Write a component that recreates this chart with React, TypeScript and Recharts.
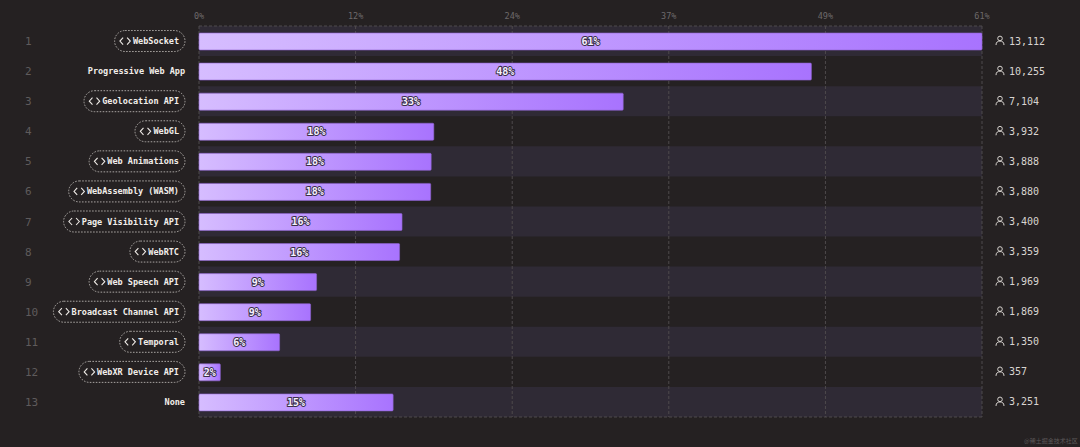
import { BarChart, Bar, XAxis, YAxis, CartesianGrid, ReferenceArea, LabelList } from "recharts";

const categories = [
  "WebSocket",
  "Progressive Web App",
  "Geolocation API",
  "WebGL",
  "Web Animations",
  "WebAssembly (WASM)",
  "Page Visibility API",
  "WebRTC",
  "Web Speech API",
  "Broadcast Channel API",
  "Temporal",
  "WebXR Device API",
  "None",
];
const users = [13112, 10255, 7104, 3932, 3888, 3880, 3400, 3359, 1969, 1869, 1350, 357, 3251];
const percents = ["61%", "48%", "33%", "18%", "18%", "18%", "16%", "16%", "9%", "9%", "6%", "2%", "15%"];
const plainLabels = ["Progressive Web App", "None"];
const tickValues = [0, 2622, 5245, 7867, 10490, 13112];
const tickLabels = ["0%", "12%", "24%", "37%", "49%", "61%"];

const data = categories.map((name, i) => ({ name, users: users[i], percent: percents[i] }));

const MONO = '"DejaVu Sans Mono", "Liberation Mono", monospace';

function FeatureTick({ x, y, payload, index }: any) {
  const name = payload.value as string;
  const i = index ?? categories.indexOf(name);
  const right = x;
  const textW = name.length * 5.1;
  const isApi = !plainLabels.includes(name);
  const pillW = textW + 24.5;
  return (
    <g>
      <text x={25} y={y + 4} fontFamily={MONO} fontSize={11} fill="#5f5b5c">
        {i + 1}
      </text>
      {isApi && (
        <>
          <rect
            x={right - pillW}
            y={y - 10.5}
            width={pillW}
            height={21}
            rx={10.5}
            fill="none"
            stroke="#c9c5c2"
            strokeWidth={0.8}
            strokeDasharray="1.6 1.4"
          />
          <path
            d={`M${right - pillW + 8.5} ${y - 3.5}l-3.2 3.5l3.2 3.5M${right - pillW + 12.5} ${y - 3.5}l3.2 3.5l-3.2 3.5`}
            fill="none"
            stroke="#eeeae6"
            strokeWidth={1.1}
          />
        </>
      )}
      <text
        x={isApi ? right - 6 : right}
        y={y + 3}
        textAnchor="end"
        fontFamily={MONO}
        fontSize={8.5}
        fontWeight={700}
        fill="#f2eeea"
      >
        {name}
      </text>
    </g>
  );
}

function UsersTick({ x, y, payload }: any) {
  const count = users[categories.indexOf(payload.value)];
  const ix = x + 12;
  return (
    <g>
      <circle cx={ix} cy={y - 2.6} r={2.3} fill="none" stroke="#d8d4d0" strokeWidth={1} />
      <path d={`M${ix - 4} ${y + 4}c0 -3 1.8 -4 4 -4s4 1 4 4`} fill="none" stroke="#d8d4d0" strokeWidth={1} />
      <text x={ix + 9} y={y + 3.5} fontFamily={MONO} fontSize={10} fill="#d8d4d0">
        {count.toLocaleString("en-US")}
      </text>
    </g>
  );
}

function PercentLabel({ x, y, width, height, index }: any) {
  return (
    <text
      x={x + width / 2}
      y={y + height / 2 + 3.5}
      textAnchor="middle"
      fontFamily={MONO}
      fontSize={10}
      fontWeight={700}
      fill="#f6f1ff"
      stroke="#3a2f4a"
      strokeWidth={2}
      paintOrder="stroke"
    >
      {percents[index]}
    </text>
  );
}

const axisTick = { fill: "#6d696a", fontSize: 8.5, fontFamily: MONO };
const formatTick = (_: number, i: number) => tickLabels[i];

export default function App() {
  return (
    <div style={{ position: "absolute", left: 0, top: 0, width: 1080, height: 447, background: "#252122" }}>
      <BarChart
        width={1080}
        height={447}
        data={data}
        layout="vertical"
        margin={{ top: 0, right: 0, bottom: 0, left: 0 }}
        barCategoryGap={0}
      >
        <defs>
          <linearGradient id="barFill" x1="0" y1="0" x2="1" y2="0">
            <stop offset="0%" stopColor="#d6bdff" />
            <stop offset="100%" stopColor="#a873fe" />
          </linearGradient>
        </defs>
        {categories.map((name, i) =>
          i % 2 === 0 ? (
            <ReferenceArea
              key={name}
              yAxisId="left"
              xAxisId="top"
              y1={name}
              y2={name}
              fill="#2f2a35"
              fillOpacity={1}
              stroke="none"
              zIndex={-150}
            />
          ) : null
        )}
        <CartesianGrid
          xAxisId="top"
          yAxisId="left"
          horizontal={false}
          stroke="#4e4a4c"
          strokeWidth={1}
          strokeDasharray="3 2"
        />
        <XAxis
          xAxisId="top"
          orientation="top"
          type="number"
          domain={[0, 13112]}
          ticks={tickValues}
          tickFormatter={formatTick}
          interval={0}
          height={26}
          tick={axisTick}
          tickLine={false}
          tickMargin={1}
          axisLine={{ stroke: "#4e4a4c", strokeDasharray: "3 2" }}
        />
        <XAxis
          xAxisId="bottom"
          orientation="bottom"
          type="number"
          domain={[0, 13112]}
          ticks={tickValues}
          tickFormatter={formatTick}
          interval={0}
          height={30}
          tick={axisTick}
          tickLine={false}
          tickMargin={1}
          axisLine={{ stroke: "#4e4a4c", strokeDasharray: "3 2" }}
        />
        <YAxis
          yAxisId="left"
          type="category"
          dataKey="name"
          width={199}
          tick={<FeatureTick />}
          tickMargin={8}
          tickLine={false}
          axisLine={false}
          interval={0}
        />
        <YAxis
          yAxisId="right"
          orientation="right"
          type="category"
          dataKey="name"
          width={98}
          tick={<UsersTick />}
          tickMargin={0}
          tickLine={false}
          axisLine={false}
          interval={0}
        />
        <Bar
          dataKey="users"
          xAxisId="top"
          yAxisId="left"
          barSize={17}
          fill="url(#barFill)"
          stroke="#8d63cf"
          strokeWidth={0.6}
          radius={1}
          isAnimationActive={false}
        >
          <LabelList dataKey="percent" content={<PercentLabel />} />
        </Bar>
      </BarChart>
      <div
        style={{
          position: "absolute",
          left: 1024,
          top: 436,
          fontFamily: '"Noto Sans CJK SC", sans-serif',
          fontSize: 6,
          lineHeight: "9px",
          color: "#5c5859",
          whiteSpace: "nowrap",
        }}
      >
        @稀土掘金技术社区
      </div>
    </div>
  );
}
